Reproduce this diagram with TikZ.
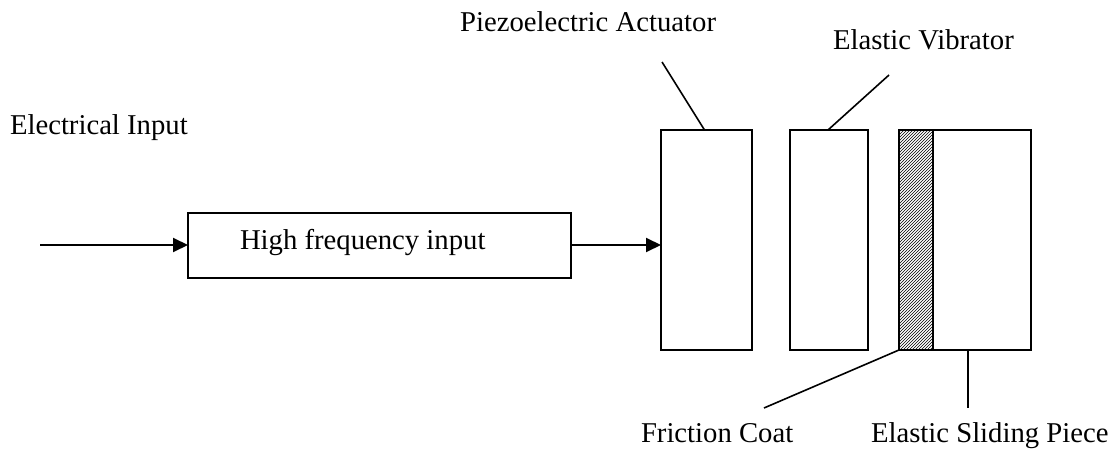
\documentclass[tikz,border=0pt]{standalone}
\usepackage{fontspec}
\setmainfont{Liberation Serif}
\usetikzlibrary{arrows.meta,patterns,calc}
\begin{document}
\begin{tikzpicture}[x=1pt,y=-1pt,
  every node/.style={inner sep=0pt,outer sep=0pt},
  lbl/.style={font=\fontsize{28.7}{32}\selectfont},
  blk/.style={draw,line width=2pt,minimum width=#1},
  lead/.style={line width=1.6pt},
  arr/.style={line width=2pt,-{Triangle[length=15pt,width=14pt]}}]
\useasboundingbox (0,0) rectangle (1117,449);
% blocks
\node[blk=383pt,minimum height=65pt] (hf) at (379.5,245.5) {};
\node[lbl,anchor=base west] (hft) at (240,250) {High frequency input};
\node[blk=91pt,minimum height=220pt] (piezo) at (706.5,240) {};
\node[blk=78pt,minimum height=220pt] (vib) at (829,240) {};
\node[blk=34pt,minimum height=220pt,pattern=north east lines] (fc) at (916,240) {};
\node[blk=98pt,minimum height=220pt] (slide) at (982,240) {};
% labels
\node[lbl,anchor=base west] (ein) at (10,135) {Electrical Input};
\node[lbl,anchor=base east] (pa) at (716,32) {Piezoelectric Actuator};
\node[lbl,anchor=base west] (ev) at (833,50) {Elastic Vibrator};
\node[lbl,anchor=base west] (fct) at (641,442) {Friction Coat};
\node[lbl,anchor=base west] (esp) at (871,442) {Elastic Sliding Piece};
% connectors
\coordinate (in) at (40,245);
\draw[arr] (in) -- (hf.west |- in);
\draw[arr] (hf.east |- in) -- (piezo.west |- in);
\coordinate (paend) at (662,62);
\coordinate (evend) at (889,75);
\coordinate (fcend) at (764,408);
\coordinate (espend) at (968,408);
\draw[lead] ($(piezo.north)+(-2,0)$) -- (paend);
\draw[lead] ($(vib.north)+(-1,0)$) -- (evend);
\draw[lead] (fc.south west) -- (fcend);
\draw[lead] (slide.south -| espend) -- (espend);
\end{tikzpicture}
\end{document}
